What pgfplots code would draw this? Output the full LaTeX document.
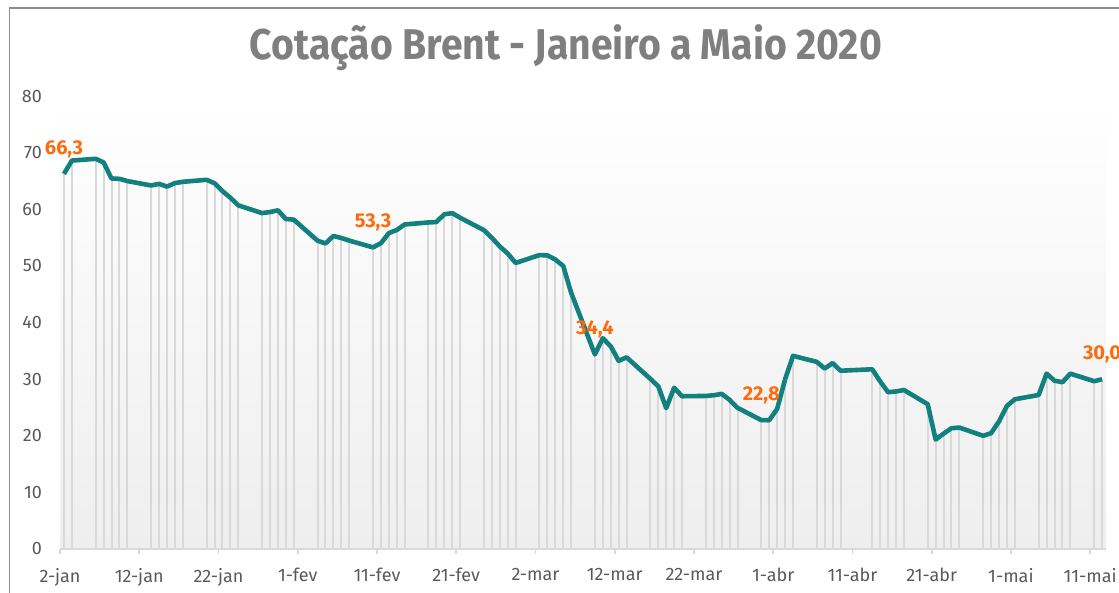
\documentclass[border=0pt]{standalone}
\usepackage{fontspec}
\setmainfont{Fira Sans}
\usepackage{pgfplots}
\usepackage{pgfplotstable}
\pgfplotsset{compat=1.18}
\definecolor{teal1}{HTML}{138080}
\definecolor{orange1}{HTML}{FF6A0D}
\definecolor{tickgray}{HTML}{595959}
\definecolor{titlegray}{HTML}{7F7F7F}
\definecolor{dropgray}{HTML}{D9D9D9}
\definecolor{bggray}{HTML}{EEEEEE}
\definecolor{framegray}{HTML}{8C8C8C}

\pgfplotstableread{
day price
0 66.25
1 68.60
4 68.91
5 68.27
6 65.44
7 65.37
8 64.98
11 64.20
12 64.49
13 64.00
14 64.62
15 64.85
18 65.20
19 64.59
20 63.21
21 62.04
22 60.69
25 59.32
26 59.51
27 59.81
28 58.29
29 58.16
32 54.45
33 53.96
34 55.28
35 54.93
36 54.47
39 53.27
40 54.01
41 55.79
42 56.34
43 57.32
46 57.67
47 57.75
48 59.12
49 59.31
50 58.50
53 56.30
54 54.95
55 53.43
56 52.18
57 50.52
60 51.90
61 51.86
62 51.13
63 49.99
64 45.27
67 34.36
68 37.22
69 35.79
70 33.22
71 33.85
74 30.05
75 28.73
76 24.88
77 28.47
78 26.98
81 27.03
82 27.15
83 27.39
84 26.34
85 24.93
88 22.76
89 22.74
90 24.74
91 29.94
92 34.11
95 33.05
96 31.87
97 32.84
98 31.48
102 31.74
103 29.60
104 27.69
105 27.82
106 28.08
109 25.57
110 19.33
111 20.37
112 21.33
113 21.44
116 19.99
117 20.46
118 22.54
119 25.27
120 26.44
123 27.20
124 30.97
125 29.72
126 29.46
127 30.97
130 29.63
131 29.98
}\brent

\pgfplotstableread{
day price lab
0 66.25 66,3
39 53.27 53,3
67 34.36 34,4
88 22.76 22,8
131 29.98 30,0
}\labs

\begin{document}
\begin{tikzpicture}
\useasboundingbox (0pt,0pt) rectangle (559.5pt,296.5pt);
\draw[framegray, line width=0.75pt] (4.75pt,-5pt) -- (4.75pt,292.5pt) -- (570pt,292.5pt);
\node[titlegray, font=\bfseries\fontsize{21.5}{24}\selectfont] at (283pt,272.5pt) {\resizebox{316pt}{\height}{Cotação Brent - Janeiro a Maio 2020}};
\begin{axis}[
  at={(30pt,22pt)}, anchor=south west,
  scale only axis, width=523pt, height=226.5pt,
  xmin=-0.5, xmax=131.5, ymin=0, ymax=80,
  axis x line*=bottom, axis y line*=left,
  y axis line style={draw=none},
  x axis line style={dropgray, line width=0.9pt, -},
  xtick={-0.5,9.5,...,129.5},
  xticklabels={2-jan,12-jan,22-jan,1-fev,11-fev,21-fev,2-mar,12-mar,22-mar,1-abr,11-abr,21-abr,1-mai,11-mai},
  ytick={0,10,...,80},
  tick align=outside, major tick length=2.5pt,
  xtick style={dropgray, line width=0.9pt},
  ytick style={draw=none},
  tick label style={tickgray, font=\fontsize{9}{10}\selectfont},
  yticklabel style={xshift=-3pt},
  xticklabel style={yshift=-3.5pt},
  axis background/.style={top color=white, bottom color=bggray},
  /pgf/number format/assume math mode=true,
  clip=false,
]
\addplot[ycomb, dropgray, line width=1pt, no markers] table[x=day,y=price]{\brent};
\addplot[teal1, line width=2.3pt, no markers, line join=round] table[x=day,y=price]{\brent};
\addplot[only marks, mark=*, mark size=0pt, mark options={draw=none,fill=none},
  point meta=explicit symbolic, nodes near coords,
  nodes near coords style={text=orange1, font=\bfseries\fontsize{10}{11}\selectfont, anchor=south, yshift=4.5pt}]
  table[x=day,y=price,meta=lab]{\labs};
\end{axis}
\end{tikzpicture}
\end{document}
